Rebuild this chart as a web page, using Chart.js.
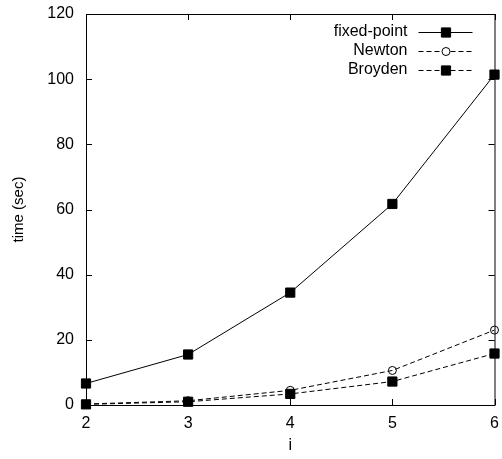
<!DOCTYPE html>
<html>
<head>
<meta charset="utf-8">
<script src="https://cdn.jsdelivr.net/npm/chart.js@4"></script>
<style>
  html, body { margin: 0; padding: 0; background: #fff; }
  #wrap { width: 502px; height: 459px; }
</style>
</head>
<body>
<div id="wrap"><canvas id="chart" width="502" height="459"></canvas></div>
<script>
// data
const iValues = [2, 3, 4, 5, 6];
const fixedPoint = [6.6, 15.5, 34.5, 61.7, 101.4];
const newton = [0.3, 1.3, 4.5, 10.6, 23.0];
const broyden = [0.2, 1.0, 3.4, 7.2, 15.8];
const seriesNames = ['fixed-point', 'Newton', 'Broyden'];
const yTicks = [0, 20, 40, 60, 80, 100, 120];

const FONT = 'Liberation Sans, Arial, Helvetica, sans-serif';

function toPoints(arr) {
  return iValues.map((x, k) => ({ x: x, y: arr[k] }));
}

// box around the plot + inward tick marks on all four sides
const frame = {
  id: 'frame',
  afterDraw(chart) {
    const { ctx, chartArea: a, scales } = chart;
    ctx.save();
    ctx.strokeStyle = '#000';
    ctx.lineWidth = 1;
    ctx.strokeRect(a.left + 0.5, a.top + 0.5, a.right - a.left, a.bottom - a.top);
    ctx.beginPath();
    const len = 6;
    scales.x.ticks.forEach(t => {
      const px = Math.round(scales.x.getPixelForValue(t.value)) + 0.5;
      ctx.moveTo(px, a.bottom); ctx.lineTo(px, a.bottom - len);
      ctx.moveTo(px, a.top); ctx.lineTo(px, a.top + len);
    });
    scales.y.ticks.forEach(t => {
      const py = Math.round(scales.y.getPixelForValue(t.value)) + 0.5;
      ctx.moveTo(a.left, py); ctx.lineTo(a.left + len, py);
      ctx.moveTo(a.right, py); ctx.lineTo(a.right - len, py);
    });
    ctx.stroke();
    ctx.restore();
  }
};

// gnuplot style key: text on the left, sample on the right
const key = {
  id: 'key',
  afterDraw(chart) {
    const { ctx, chartArea: a } = chart;
    ctx.save();
    ctx.font = '16px ' + FONT;
    ctx.textAlign = 'right';
    ctx.textBaseline = 'middle';
    chart.data.datasets.forEach((ds, k) => {
      const y = a.top + 18 + k * 19;
      const textRight = a.right - 87;
      ctx.fillStyle = '#000';
      ctx.fillText(ds.label, textRight, y);
      const x0 = textRight + 11, x1 = a.right - 22;
      ctx.strokeStyle = '#000';
      ctx.lineWidth = 1;
      ctx.setLineDash(ds.borderDash || []);
      ctx.beginPath();
      ctx.moveTo(x0, y + 0.5); ctx.lineTo(x1, y + 0.5);
      ctx.stroke();
      ctx.setLineDash([]);
      ctx.fillStyle = ds.pointStyle === 'circle' ? '#fff' : '#000';
      Chart.helpers.drawPoint(ctx, {
        pointStyle: ds.pointStyle, radius: ds.pointRadius, borderWidth: 1
      }, Math.round((x0 + x1) / 2), y + 0.5);
    });
    ctx.restore();
  }
};

function datasetFor(name, values, dashed, style) {
  return {
    label: name,
    data: toPoints(values),
    borderColor: '#000',
    backgroundColor: style === 'circle' ? '#fff' : '#000',
    borderWidth: 1,
    borderDash: dashed ? [5, 3] : [],
    pointStyle: style,
    pointRadius: style === 'circle' ? 4 : 6.5,
    pointBorderColor: '#000',
    pointBackgroundColor: style === 'circle' ? 'rgba(255,255,255,0)' : '#000',
    pointBorderWidth: 1,
    tension: 0,
    clip: false
  };
}

new Chart(document.getElementById('chart').getContext('2d'), {
  type: 'line',
  data: {
    datasets: [
      datasetFor(seriesNames[0], fixedPoint, false, 'rect'),
      datasetFor(seriesNames[1], newton, true, 'circle'),
      datasetFor(seriesNames[2], broyden, true, 'rect')
    ]
  },
  options: {
    responsive: false,
    animation: false,
    layout: { padding: { top: 14, right: 6, left: 0, bottom: 0 } },
    plugins: { legend: { display: false }, tooltip: { enabled: false } },
    scales: {
      x: {
        type: 'linear',
        min: iValues[0],
        max: iValues[iValues.length - 1],
        ticks: { stepSize: 1, color: '#000', font: { family: FONT, size: 16 }, padding: 9 },
        grid: { display: false, drawTicks: false },
        border: { display: false },
        title: { display: true, text: 'i', color: '#000', font: { family: FONT, size: 16 }, padding: { top: 0 } },
        afterFit(s) { s.height = 54; s.paddingLeft = 0; s.paddingRight = 0; }
      },
      y: {
        min: yTicks[0],
        max: yTicks[yTicks.length - 1],
        afterBuildTicks(s) { s.ticks = yTicks.map(v => ({ value: v })); },
        ticks: { color: '#000', font: { family: FONT, size: 16 }, padding: 12 },
        grid: { display: false, drawTicks: false },
        border: { display: false },
        title: { display: true, text: 'time (sec)', color: '#000', font: { family: FONT, size: 15 }, padding: { top: 10, bottom: 10 } },
        afterFit(s) { s.width = 86; s.paddingTop = 0; s.paddingBottom = 0; }
      }
    }
  },
  plugins: [frame, key]
});
</script>
</body>
</html>
